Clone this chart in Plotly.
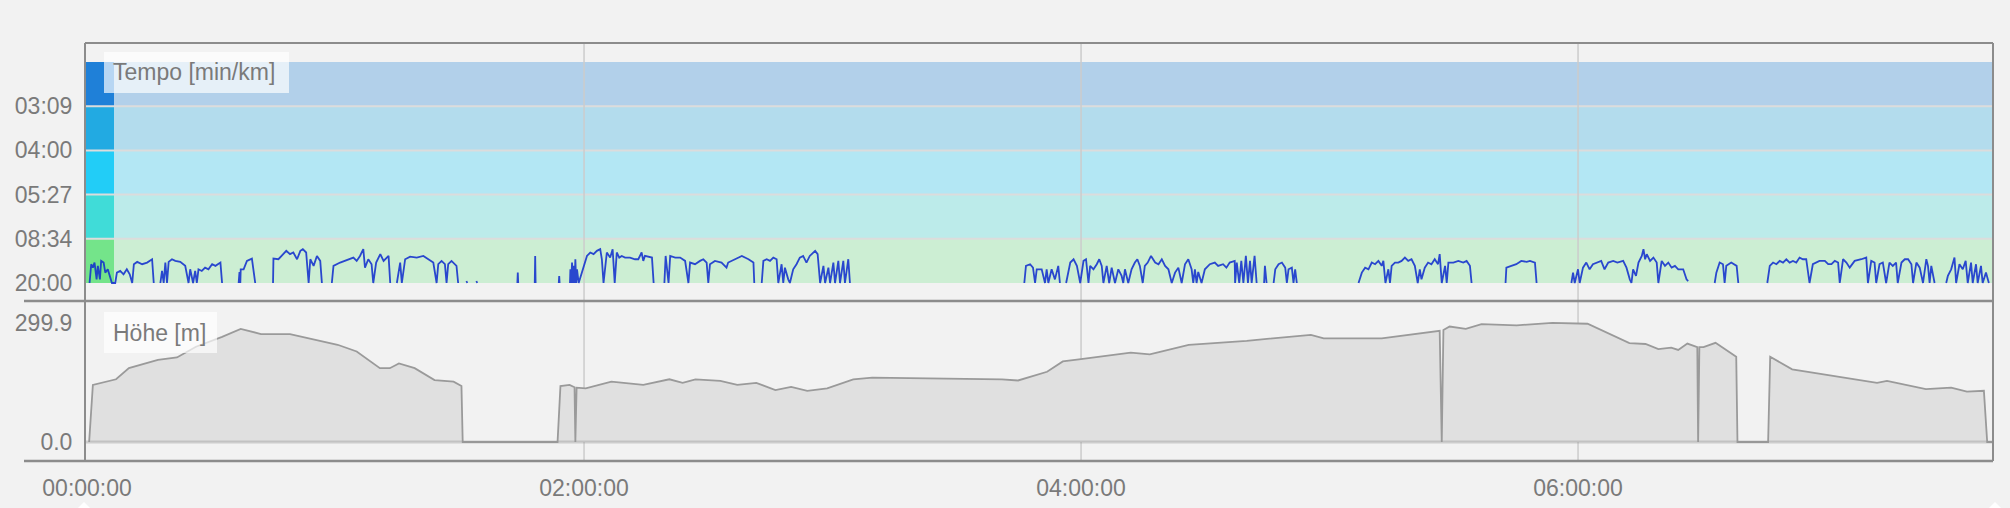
import plotly.graph_objects as go

W, H = 2010, 508

# ---------------- data ----------------
# Pace/speed zones (km/h) and their pace labels (min/km)
zone_edges_kmh = [3, 7, 11, 15, 19, 23]
zone_colors = ["#74e48a", "#40dcd8", "#22cdf7", "#22aae2", "#1f80d8"]
pace_tick_kmh = [3, 7, 11, 15, 19]
pace_tick_labels = ["20:00", "08:34", "05:27", "04:00", "03:09"]

# time axis ticks (minutes)
time_tick_min = [0, 120, 240, 360]
time_tick_labels = ["00:00:00", "02:00:00", "04:00:00", "06:00:00"]
grid_min = [120, 240, 360]

# elevation axis ticks
elev_tick_vals = [0, 299.9]
elev_tick_labels = ["0.0", "299.9"]

# speed (km/h) over elapsed time (min); each segment is a recorded stretch
pace_segments = [
    [(0.6,3.0),(1.0,4.70),(1.4,4.39),(1.8,4.85),(2.3,3.33),(2.6,4.55),(3.1,3.33),(3.4,5.0),(4.0,4.85),(4.4,3.94),(5.0,4.24),(5.6,3.33),(6.0,3.0),
     (6.8,3.0),(7.2,3.94),(8.0,4.09),(8.8,3.79),(9.6,4.24),(10.3,3.79),(10.9,3.0),(11.3,4.70),(12.1,4.91),(13.3,4.70),(14.5,4.85),(15.7,5.15),(16.1,3.0)],
    [(17.7,3.0),(18.1,4.09),(18.5,3.0),(18.9,4.85),(19.3,3.0),(19.7,4.91),(20.5,5.15),(21.3,5.0),(22.5,4.91),(23.7,4.55),(24.5,3.0),(24.9,4.24),(25.6,3.0),(26.1,4.09),(26.5,3.0),(26.9,4.24),(27.7,4.09),(28.5,4.39),(29.3,4.24),(30.2,4.70),(31.0,4.55),(32.2,4.85),(32.6,3.0)],
    [(36.6,3.0),(36.8,4.0),(37.0,3.0),(37.1,4.24),(37.8,4.24),(38.6,5.0),(39.8,5.21),(40.6,3.0)],
    [(44.9,3.0),(45.0,5.21),(46.2,5.15),(47.0,5.45),(48.1,5.91),(49.0,5.61),(49.8,5.76),(50.7,5.15),(51.5,5.91),(52.1,6.06),(52.9,5.76),(53.5,3.0),(53.9,5.15),(54.7,4.55),(55.5,5.45),(56.3,5.0),(56.7,3.0)],
    [(59.1,3.0),(59.5,4.55),(61.1,4.85),(62.3,5.0),(64.3,5.30),(65.1,5.0),(65.9,5.45),(66.7,6.06),(67.1,4.39),(67.9,5.15),(68.7,4.70),(69.1,3.0),(69.8,4.85),(70.8,5.61),(71.6,5.0),(72.8,5.45),(73.2,3.0)],
    [(74.8,3.0),(75.6,4.85),(76.0,3.0),(76.8,5.15),(78.0,5.39),(79.6,5.30),(81.2,5.45),(82.4,5.15),(83.6,4.85),(84.4,3.0),(84.8,4.70),(85.6,5.0),(86.4,4.70),(86.8,3.0),(87.2,4.70),(88.0,5.0),(89.2,4.55),(89.6,3.0)],
    [(91.6,3.18),(91.8,3.0)],
    [(94.0,3.18),(94.2,3.0)],
    [(103.9,3.0),(104.0,3.94),(104.1,3.0)],
    [(108.1,3.0),(108.2,5.45),(108.3,3.0)],
    [(113.9,3.0),(114.0,3.64),(114.1,3.0)],
    [(116.6,3.0),(116.7,4.24),(116.9,3.0),(117.1,4.85),(117.3,3.0),(117.5,4.55),(117.7,3.0),(117.9,5.15),(118.1,3.0),(118.3,4.24),(118.7,3.0),(119.9,4.55),(120.7,5.45),(121.5,5.76),(122.3,5.61),(123.1,5.91),(123.9,6.06),(124.3,5.15),(124.7,3.0),(125.5,5.76),(126.3,5.30),(126.9,6.06),(127.4,3.0),(127.9,5.76),(128.5,5.30),(129.1,5.45),(129.9,5.30),(131.1,5.30),(132.3,5.15),(133.1,5.15),(133.9,5.76),(134.3,5.0),(134.7,5.45),(136.4,5.30),(136.8,3.0)],
    [(139.4,3.0),(139.7,5.45),(140.4,3.0),(140.8,5.45),(142.0,5.30),(143.2,5.30),(144.4,5.0),(145.2,3.0),(145.6,4.85),(146.8,4.70),(148.0,5.0),(148.8,5.15),(149.6,4.85),(150.0,3.0),(150.4,4.70),(151.6,5.0),(153.2,4.85),(154.4,4.39),(154.8,4.85),(156.5,5.15),(158.1,5.45),(159.7,5.15),(160.9,4.85),(161.1,3.0)],
    [(162.9,3.0),(163.3,5.0),(164.1,5.15),(164.9,5.0),(165.7,5.30),(166.5,5.15),(166.9,3.0),(167.7,4.70),(168.1,3.0),(168.5,4.39),(169.3,3.33),(169.7,3.0),(170.5,4.24),(171.3,4.70),(172.1,5.30),(172.9,5.45),(173.7,4.85),(174.5,5.45),(175.8,5.91),(176.4,5.61),(177.0,3.0),(177.8,4.55),(178.2,3.0),(179.0,4.39),(179.4,3.0),(180.2,4.85),(180.6,3.0),(181.4,5.0),(181.8,3.0),(182.6,5.0),(183.0,3.0),(183.8,5.15),(184.2,3.0)],
    [(226.3,3.0),(226.7,4.55),(227.7,4.70),(228.4,4.39),(228.9,3.0),(229.3,4.24),(230.5,4.24),(231.3,3.0),(231.7,4.24),(232.1,3.0),(232.9,4.24),(233.7,3.33),(234.5,4.55),(234.9,3.0)],
    [(236.4,3.0),(237.4,4.85),(238.2,5.15),(239.0,4.55),(239.8,3.0),(240.6,5.0),(241.2,5.15),(241.8,3.0),(242.2,4.55),(243.0,4.24),(243.8,4.70),(244.4,5.15),(245.0,4.55),(245.4,3.0),(246.2,4.55),(246.8,3.0),(247.4,4.39),(248.2,3.0),(249.0,4.24),(249.8,3.64),(250.2,3.0),(250.6,4.24),(251.4,3.0),(252.2,4.24),(253.0,4.85),(253.6,5.15),(254.2,4.55),(254.9,3.0),(255.4,4.55),(256.1,4.85),(256.9,5.45),(257.9,4.85),(258.7,4.70),(259.5,5.15),(260.3,4.55),(261.1,4.24),(261.9,3.0),(262.7,3.94),(263.5,4.39),(264.3,3.0),(265.1,4.70),(265.9,5.15),(266.7,4.24),(267.1,3.0),(267.5,4.24),(267.9,3.0),(268.3,4.0),(269.1,3.0),(269.9,4.24),(271.1,4.70),(272.3,4.85),(273.1,4.55),(274.3,4.70),(275.1,4.39),(275.9,4.85),(277.1,5.0),(277.2,3.0),(277.6,4.85),(278.2,3.0),(278.7,5.0),(279.2,3.0),(279.8,5.45),(280.3,3.0),(280.8,5.0),(281.2,3.0),(281.9,5.45),(282.4,3.0)],
    [(284.2,3.0),(284.4,4.55),(284.8,3.0)],
    [(286.5,3.0),(286.9,4.24),(287.7,4.70),(288.5,4.85),(289.3,4.39),(289.7,3.0),(290.1,4.24),(290.9,4.39),(291.3,3.0),(291.7,4.24),(292.1,3.0)],
    [(307.0,3.0),(307.8,3.94),(308.6,4.39),(309.4,4.24),(310.2,4.85),(311.0,4.70),(311.8,5.0),(312.6,4.55),(313.0,5.0),(313.5,3.0),(314.2,4.24),(314.6,3.0),(315.0,4.55),(315.8,4.85),(316.6,4.85),(317.4,5.0),(318.2,5.30),(319.0,5.0),(319.8,5.15),(320.6,4.55),(321.3,3.0),(321.8,4.24),(322.2,3.33),(323.0,4.39),(323.8,4.85),(324.6,4.70),(325.4,5.15),(326.2,4.70),(326.6,5.61),(327.1,3.0),(327.9,4.55),(328.3,3.0),(328.7,4.85),(329.9,4.85),(331.1,5.0),(332.3,4.85),(333.1,5.0),(333.9,4.55),(334.3,3.0)],
    [(342.5,3.0),(342.7,4.39),(343.9,4.55),(345.1,4.70),(346.3,5.0),(347.6,4.91),(348.4,5.0),(349.6,4.85),(350.0,3.0)],
    [(358.4,3.0),(358.8,3.94),(359.2,3.0),(360.0,4.24),(360.4,3.0),(361.2,4.39),(362.0,4.85),(362.8,4.24),(363.6,4.70),(364.8,4.85),(365.6,5.0),(366.4,4.24),(367.3,4.85),(368.5,5.0),(369.5,4.85),(370.9,5.0),(371.7,4.39),(372.5,3.33),(372.9,3.0),(373.3,4.24),(374.0,3.64),(374.6,4.85),(375.4,5.45),(375.8,6.06),(376.2,5.15),(376.6,5.61),(377.4,5.0),(378.2,5.30),(379.0,4.85),(379.4,3.0),(380.2,5.0),(381.0,4.55),(381.8,4.85),(382.6,4.39),(383.4,4.55),(384.2,4.24),(385.4,4.24),(386.2,3.33),(386.6,3.18)],
    [(393.0,3.0),(393.4,3.94),(394.2,4.85),(395.0,4.70),(395.4,3.0),(395.8,4.55),(397.0,4.85),(398.3,4.55),(398.7,3.0)],
    [(405.7,3.0),(406.3,4.55),(407.1,4.85),(407.9,4.70),(408.7,5.0),(409.5,4.85),(410.3,5.15),(411.1,4.85),(411.9,5.0),(412.7,4.85),(413.5,5.30),(414.3,5.15),(415.1,5.15),(415.9,3.0),(416.7,4.70),(417.5,4.85),(418.3,5.0),(419.6,5.0),(420.4,4.70),(421.2,4.70),(422.0,5.0),(422.8,4.85),(423.2,3.0),(424.0,5.15),(424.8,4.85),(425.6,4.39),(426.8,5.0),(428.4,5.15),(429.6,5.30),(430.0,3.0),(430.8,5.0),(431.6,4.85),(432.0,3.0),(432.8,4.70),(433.6,4.85),(434.4,3.0),(435.2,4.85),(436.0,4.55),(436.8,4.85),(437.2,3.0),(438.1,4.85),(438.9,5.15),(439.7,5.15),(440.5,4.70),(440.9,3.0),(441.7,4.85),(442.5,4.39),(443.3,3.0),(444.1,5.15),(444.5,4.55),(444.9,3.0),(445.3,4.55),(446.1,3.0)],
    [(448.9,3.0),(449.3,3.64),(450.1,4.24),(450.9,5.30),(451.3,3.0),(452.1,4.70),(452.9,4.24),(453.6,5.0),(454.1,3.0),(454.9,4.85),(455.3,3.0),(456.1,4.70),(456.5,3.0),(457.3,4.55),(457.7,3.0),(458.5,3.94),(459.2,3.0)],
]

# elevation (m) over elapsed time (min)
elevation_profile = [
    (0.5,0),(1.4,144),(7.0,158),(10.1,186),(17.1,207),(21.7,213),(26.3,240),(32.6,265),(37.1,285),(42.0,272),
    (49.0,272),(60.5,245),(65.1,228),(70.7,186),(73.1,186),(75.3,198),(79.1,186),(83.9,156),(88.5,152),(90.4,141),
    (90.7,0),(113.6,0),(114.3,141),(116.5,144),(117.7,138),(117.9,0),(118.2,137),(120.4,135),(126.6,152),(134.3,144),
    (140.6,158),(143.8,149),(146.9,158),(152.9,154),(157.0,144),(161.6,149),(166.2,131),(170.0,139),(173.9,129),(178.7,135),
    (185.0,158),(189.6,162),(220.9,158),(224.8,155),(231.8,177),(235.6,203),(239.5,208),(252.0,225),(256.6,221),(266.0,245),
    (280.0,255),(295.5,270),(298.6,261),(312.6,261),(326.6,280),(327.1,0),(327.5,282),(329.0,291),(332.9,285),(336.7,297),
    (345.2,294),(353.8,300),(362.3,298),(372.4,249),(376.3,247),(379.4,234),(382.5,238),(384.2,232),(386.4,248),(388.8,239),
    (389.0,0),(389.3,239),(390.3,239),(393.2,250),(398.2,215),(398.5,0),(405.9,0),(406.4,215),(411.7,183),(423.1,165),
    (432.2,149),(434.6,154),(444.0,133),(450.1,137),(453.9,127),(458.0,129),(458.8,0),(460.2,0),
]

# ---------------- layout geometry (pixels) ----------------
L, R = 85, 1993
TOP_T, TOP_B = 43, 301
BOT_T, BOT_B = 301, 461


def px(x):
    return x / W


def py(y):
    return (H - y) / H


pace_x, pace_y = [], []
for seg in pace_segments:
    for t, v in seg:
        pace_x.append(t)
        pace_y.append(v)
    pace_x.append(None)
    pace_y.append(None)

elev_x = [p[0] for p in elevation_profile]
elev_y = [p[1] for p in elevation_profile]

fig = go.Figure()

fig.add_trace(go.Scatter(
    x=elev_x, y=elev_y, xaxis="x2", yaxis="y2", mode="lines",
    line=dict(color="#9a9a9a", width=1.8), fill="tozeroy", fillcolor="#e0e0e0",
    hoverinfo="skip", showlegend=False,
))
fig.add_trace(go.Scatter(
    x=pace_x, y=pace_y, xaxis="x", yaxis="y", mode="lines",
    line=dict(color="rgba(18,48,205,0.88)", width=1.8), connectgaps=False,
    hoverinfo="skip", showlegend=False,
))

tickfont = dict(family="Liberation Sans, Arial, sans-serif", size=23, color="#7a7a7a")
xr = [-0.5, 460.2]

fig.update_layout(
    width=W, height=H, autosize=False,
    margin=dict(l=0, r=0, t=0, b=0, pad=0),
    paper_bgcolor="#f2f2f2", plot_bgcolor="rgba(0,0,0,0)",
    showlegend=False,
    xaxis=dict(domain=[px(L), px(R)], range=xr, anchor="y", tickvals=grid_min, automargin=False,
               showticklabels=False, showgrid=False, zeroline=False, showline=False, ticks=""),
    yaxis=dict(domain=[py(TOP_B), py(TOP_T)], range=[1.371, 24.72], anchor="x", automargin=False,
               tickvals=pace_tick_kmh, ticktext=pace_tick_labels, tickfont=tickfont,
               showgrid=False, zeroline=False, showline=False,
               ticks="outside", ticklen=7, tickcolor="rgba(0,0,0,0)"),
    xaxis2=dict(domain=[px(L), px(R)], range=xr, anchor="y2", matches="x", automargin=False,
                tickvals=time_tick_min, ticktext=time_tick_labels, tickfont=tickfont,
                showgrid=False, zeroline=False, showline=False,
                ticks="outside", ticklen=6, tickcolor="rgba(0,0,0,0)"),
    yaxis2=dict(domain=[py(BOT_B), py(BOT_T)], range=[-47.9, 355.3], anchor="x2", automargin=False,
                tickvals=elev_tick_vals, ticktext=elev_tick_labels, tickfont=tickfont,
                showgrid=False, zeroline=False, showline=False,
                ticks="outside", ticklen=7, tickcolor="rgba(0,0,0,0)"),
)

shapes = []
STRIP_R = 114
# zone bands (light) and strip (solid)
for i, c in enumerate(zone_colors):
    y0, y1 = zone_edges_kmh[i], zone_edges_kmh[i + 1]
    shapes.append(dict(type="rect", xref="paper", yref="y", x0=px(L), x1=px(R - 1), y0=y0, y1=y1,
                       fillcolor=c, opacity=0.3, line=dict(width=0), layer="below"))
    shapes.append(dict(type="rect", xref="paper", yref="y", x0=px(L), x1=px(STRIP_R), y0=y0, y1=y1,
                       fillcolor=c, line=dict(width=0), layer="below"))
for e in zone_edges_kmh[1:-1]:
    shapes.append(dict(type="line", xref="paper", yref="y", x0=px(L), x1=px(R - 1), y0=e, y1=e,
                       line=dict(color="#dcdcdc", width=2), layer="below"))
# vertical grid lines in both panels
for g in grid_min:
    shapes.append(dict(type="line", xref="x", yref="y domain", x0=g, x1=g, y0=0, y1=1,
                       line=dict(color="#cccccc", width=1.5), layer="below"))
    shapes.append(dict(type="line", xref="x2", yref="y2 domain", x0=g, x1=g, y0=0, y1=1,
                       line=dict(color="#cccccc", width=1.5), layer="below"))
# zero line of elevation panel
shapes.append(dict(type="line", xref="paper", yref="y2", x0=px(L), x1=px(R - 1), y0=0, y1=0,
                   line=dict(color="rgba(150,150,150,0.4)", width=3), layer="above"))
# label boxes
shapes.append(dict(type="rect", xref="paper", yref="paper", x0=px(104), x1=px(289), y0=py(93), y1=py(52),
                   fillcolor="rgba(255,255,255,0.68)", line=dict(width=0), layer="above"))
shapes.append(dict(type="rect", xref="paper", yref="paper", x0=px(104), x1=px(217), y0=py(353), y1=py(312),
                   fillcolor="rgba(255,255,255,0.68)", line=dict(width=0), layer="above"))
# frame
frame = "#8c8c8c"
shapes.append(dict(type="line", xref="paper", yref="paper", x0=px(L), x1=px(R), y0=py(TOP_T), y1=py(TOP_T),
                   line=dict(color=frame, width=2), layer="above"))
shapes.append(dict(type="line", xref="paper", yref="paper", x0=px(L), x1=px(L), y0=py(TOP_T), y1=py(BOT_B),
                   line=dict(color=frame, width=2), layer="above"))
shapes.append(dict(type="line", xref="paper", yref="paper", x0=px(R), x1=px(R), y0=py(TOP_T), y1=py(BOT_B),
                   line=dict(color=frame, width=2), layer="above"))
for yy in (TOP_B, BOT_B):
    shapes.append(dict(type="line", xref="paper", yref="paper", x0=px(24), x1=px(R), y0=py(yy), y1=py(yy),
                       line=dict(color=frame, width=2.5), layer="above"))
# small slider handles at the bottom
for cx in (84, 1995):
    shapes.append(dict(type="path", xref="paper", yref="paper",
                       path=f"M {px(cx-7)} {py(509)} L {px(cx)} {py(502)} L {px(cx+7)} {py(509)} Z",
                       fillcolor="#ffffff", line=dict(width=0), layer="above"))

fig.update_layout(shapes=shapes)

labelfont = dict(family="Liberation Sans, Arial, sans-serif", size=23, color="#7a7a7a")
fig.add_annotation(text="Tempo [min/km]", xref="paper", yref="paper", x=px(111), y=py(72.5),
                   xanchor="left", yanchor="middle", showarrow=False, font=labelfont)
fig.add_annotation(text="Höhe [m]", xref="paper", yref="paper", x=px(111), y=py(332.5),
                   xanchor="left", yanchor="middle", showarrow=False, font=labelfont)

fig.write_html("out.html", config={"displayModeBar": False},
               post_script="document.body.style.margin='0px';document.body.style.overflow='hidden';")
